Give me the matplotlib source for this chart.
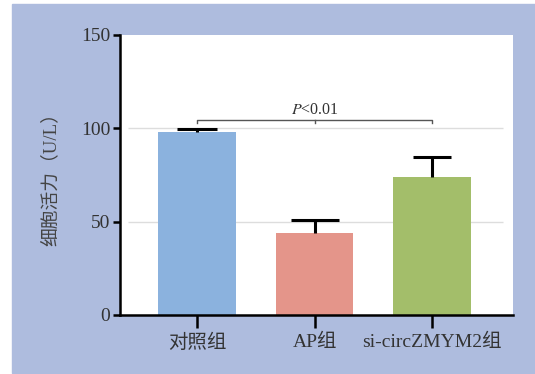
import numpy as np
import matplotlib.pyplot as plt
from matplotlib.patches import Rectangle

plt.rcParams['font.family'] = ['Liberation Serif', 'Noto Sans CJK SC']
plt.rcParams['mathtext.fontset'] = 'stix'

groups = ["对照组", "AP组", "si-circZMYM2组"]
means = [98.2, 44.1, 73.8]
errs = [1.3, 6.8, 10.7]
colors = ["#8bb2de", "#e4958a", "#a3be6a"]
yticks = [0, 50, 100, 150]

fig = plt.figure(figsize=(5.35, 3.74), dpi=100, facecolor="white")
# blue panel behind the chart
panel = Rectangle((12 / 535, 0.003), 1, 1 - 4 / 374 - 0.003,
                  transform=fig.transFigure, color="#aebcde", zorder=-10)
fig.add_artist(panel)

ax = fig.add_axes([0.2243, 0.1578, 0.7346, 0.7487])
ax.set_facecolor("white")

x = np.arange(len(groups))
ax.bar(x, means, width=0.66, color=colors, zorder=2)
# upper error bars only
for xi, m, e, cs in zip(x, means, errs, [14.4, 17, 14]):
    eb = ax.errorbar(xi, m, yerr=[[0], [e]], fmt="none", ecolor="black",
                     elinewidth=2.2, capsize=cs, capthick=2.2, zorder=3)
    eb[1][0].set_visible(False)

# light grid lines at 50 and 100
for g in [50, 100]:
    ax.hlines(g, -0.59, 2.6, color="#dddddd", lw=1, zorder=1)

# significance bracket
by = 104.5
ax.plot([0, 0, 2, 2], [102.6, by, by, 102.6], color="#555555", lw=1, zorder=3)
ax.plot([1, 1], [by, 102.6], color="#555555", lw=1, zorder=3)
ax.text(1, by + 1.0, "$\\mathit{P}$<0.01", ha="center", va="bottom",
        fontsize=11.5, color="#333333")

ax.set_xlim(-0.654, 2.686)
ax.set_ylim(0, 150)
ax.set_yticks(yticks)
ax.set_xticks(x)
ax.set_xticklabels(groups, fontsize=14, color="#333333")
ax.tick_params(axis="y", labelsize=14, labelcolor="#333333", length=5,
               width=1.8, pad=2)
ax.tick_params(axis="x", length=9.5, width=1.8, pad=4)
ax.set_ylabel("细胞活力（U/L）", fontsize=13.5, color="#444444", labelpad=15)

for s in ["top", "right"]:
    ax.spines[s].set_visible(False)
for s in ["left", "bottom"]:
    ax.spines[s].set_linewidth(1.8)

fig.savefig("out.png", dpi=100)
